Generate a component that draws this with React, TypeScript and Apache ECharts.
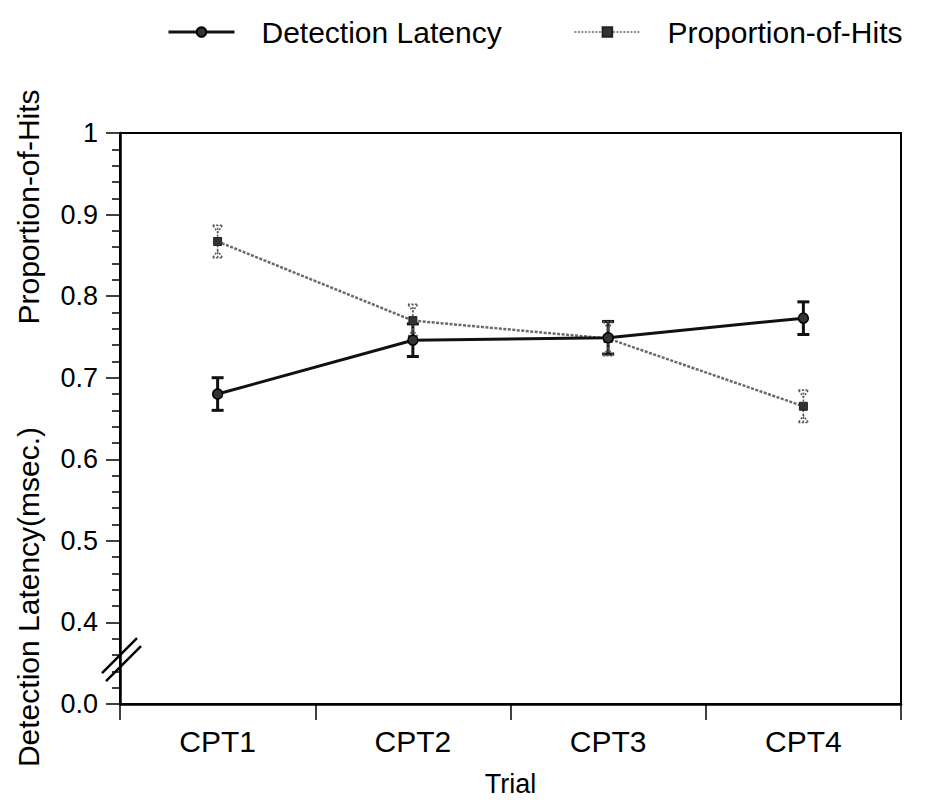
import React, { useEffect, useRef } from "react";
import * as echarts from "echarts";

const categories = ["CPT1", "CPT2", "CPT3", "CPT4"];
const latencyMean = [0.68, 0.746, 0.749, 0.773];
const latencyErr = [0.02, 0.02, 0.02, 0.02];
const hitsMean = [0.867, 0.77, 0.748, 0.665];
const hitsErr = [0.02, 0.02, 0.021, 0.02];
const yTickLabels: Record<string, string> = { "0.3": "0.0", "1.0": "1" };

const FONT = "'Liberation Sans', Arial, Helvetica, sans-serif";

export default function App() {
  const ref = useRef<HTMLDivElement>(null);
  useEffect(() => {
    if (!ref.current) return;
    const chart = echarts.init(ref.current, undefined, { renderer: "svg" });

    const latencyBars = latencyMean.map((m, i) => [i, m - latencyErr[i], m + latencyErr[i]]);
    const hitsBars = hitsMean.map((m, i) => [i, m - hitsErr[i], m + hitsErr[i]]);

    const blackBar = (params: any, api: any) => {
      const lo = api.coord([api.value(0), api.value(1)]);
      const hi = api.coord([api.value(0), api.value(2)]);
      const w = 6;
      const st = { stroke: "#111", lineWidth: 3 };
      return {
        type: "group",
        children: [
          { type: "line", shape: { x1: lo[0], y1: lo[1], x2: hi[0], y2: hi[1] }, style: st },
          { type: "line", shape: { x1: lo[0] - w, y1: lo[1], x2: lo[0] + w, y2: lo[1] }, style: st },
          { type: "line", shape: { x1: hi[0] - w, y1: hi[1], x2: hi[0] + w, y2: hi[1] }, style: st },
        ],
      };
    };
    const grayBar = (params: any, api: any) => {
      const lo = api.coord([api.value(0), api.value(1)]);
      const hi = api.coord([api.value(0), api.value(2)]);
      const w = 5;
      const st = { stroke: "#555", lineWidth: 1.5, lineDash: [2, 1.5], fill: "none" };
      return {
        type: "group",
        children: [
          { type: "line", shape: { x1: lo[0], y1: lo[1], x2: hi[0], y2: hi[1] }, style: st },
          {
            type: "polygon",
            shape: { points: [[hi[0] - w, hi[1]], [hi[0] + w, hi[1]], [hi[0], hi[1] + 7]] },
            style: st,
          },
          {
            type: "polygon",
            shape: { points: [[lo[0] - w, lo[1]], [lo[0] + w, lo[1]], [lo[0], lo[1] - 7]] },
            style: st,
          },
        ],
      };
    };

    chart.setOption({
      animation: false,
      backgroundColor: "#ffffff",
      textStyle: { fontFamily: FONT, color: "#000" },
      legend: {
        left: 162,
        top: 9,
        itemWidth: 66,
        itemHeight: 12,
        itemGap: 72,
        data: [
          {
            name: "Detection Latency",
            lineStyle: { width: 3, color: "#111" },
          },
          {
            name: "Proportion-of-Hits",
            lineStyle: { width: 1.5, color: "#666", type: [2, 1.5] },
          },
        ],
        textStyle: { fontSize: 30, fontFamily: FONT, color: "#000", padding: [0, 0, 0, 22], lineHeight: 36 },
      },
      grid: {
        left: 120,
        right: 27,
        top: 133,
        bottom: 97,
        show: true,
        borderColor: "#000",
        borderWidth: 2,
        backgroundColor: "transparent",
      },
      xAxis: {
        type: "category",
        data: categories,
        boundaryGap: true,
        name: "Trial",
        nameLocation: "middle",
        nameGap: 66,
        nameTextStyle: { fontSize: 27, fontFamily: FONT, color: "#000" },
        axisLine: { lineStyle: { color: "#000", width: 2.5 } },
        axisTick: { show: true, alignWithLabel: false, length: 16, lineStyle: { color: "#000", width: 1.5 } },
        axisLabel: { fontSize: 30, fontFamily: FONT, color: "#000", margin: 22 },
        splitLine: { show: false },
      },
      yAxis: {
        type: "value",
        min: 0.3,
        max: 1.0,
        interval: 0.1,
        axisLine: { show: true, lineStyle: { color: "#000", width: 2.5 } },
        axisTick: { show: true, length: 14, lineStyle: { color: "#000", width: 1.5 } },
        minorTick: { show: true, splitNumber: 5, length: 8, lineStyle: { color: "#000", width: 1.5 } },
        splitLine: { show: false },
        minorSplitLine: { show: false },
        axisLabel: {
          fontSize: 27,
          fontFamily: FONT,
          color: "#000",
          margin: 22,
          formatter: (v: number) => {
            const k = v.toFixed(1);
            return yTickLabels[k] ?? k;
          },
        },
      },
      series: [
        {
          name: "Detection Latency",
          type: "line",
          data: latencyMean,
          symbol: "circle",
          symbolSize: 10,
          itemStyle: { color: "#333", borderColor: "#000", borderWidth: 1.5 },
          lineStyle: { color: "#111", width: 3 },
          z: 4,
        },
        {
          name: "Proportion-of-Hits",
          type: "line",
          data: hitsMean,
          symbol: "rect",
          symbolSize: 8,
          itemStyle: { color: "#333", borderColor: "#222", borderWidth: 1 },
          lineStyle: { color: "#6a6a6a", width: 2.5, type: [3, 1.5] },
          z: 3,
        },
        {
          name: "latency-err",
          type: "custom",
          renderItem: blackBar,
          data: latencyBars,
          encode: { x: 0, y: [1, 2] },
          z: 2,
          silent: true,
        },
        {
          name: "hits-err",
          type: "custom",
          renderItem: grayBar,
          data: hitsBars,
          encode: { x: 0, y: [1, 2] },
          z: 2,
          silent: true,
        },
      ],
    });

    const yc = chart.convertToPixel({ yAxisIndex: 0 }, 0.355) as number;
    const axisX = 120;
    chart.setOption({
      graphic: [
        {
          type: "text",
          x: 28,
          y: 207,
          rotation: Math.PI / 2,
          style: {
            text: "Proportion-of-Hits",
            fontSize: 30,
            fontFamily: FONT,
            fill: "#000",
            align: "center",
            verticalAlign: "middle",
          },
        },
        {
          type: "text",
          x: 28,
          y: 597,
          rotation: Math.PI / 2,
          style: {
            text: "Detection Latency(msec.)",
            fontSize: 30,
            fontFamily: FONT,
            fill: "#000",
            align: "center",
            verticalAlign: "middle",
          },
        },
        {
          type: "line",
          shape: { x1: axisX - 18, y1: yc + 14, x2: axisX + 17, y2: yc - 21 },
          style: { stroke: "#000", lineWidth: 2.5 },
          z: 100,
        },
        {
          type: "line",
          shape: { x1: axisX - 14, y1: yc + 22, x2: axisX + 21, y2: yc - 13 },
          style: { stroke: "#000", lineWidth: 2.5 },
          z: 100,
        },
      ],
    });

    return () => chart.dispose();
  }, []);
  return (
    <div
      ref={ref}
      style={{ position: "absolute", left: 0, top: 0, width: 928, height: 802 }}
    />
  );
}
